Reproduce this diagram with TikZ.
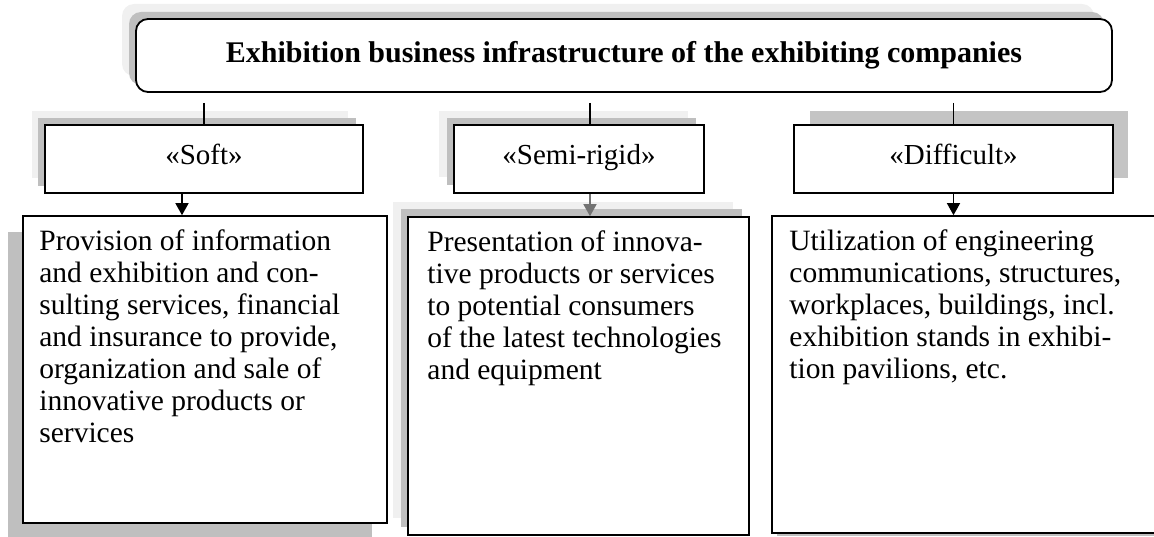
\documentclass[tikz,border=0pt]{standalone}
\usepackage{fontspec}
\setmainfont{Liberation Serif}
\usetikzlibrary{arrows.meta,positioning}

\tikzset{
    box/.style={draw, line width=1.6pt, fill=white, inner sep=0pt, font=\fontsize{29}{32}\selectfont},
    kindbox/.style={box, minimum height=68pt, text height=19pt, text depth=7pt},
    headbox/.style={box, line width=1.8pt, rounded corners=12pt, font=\bfseries\fontsize{30}{32}\selectfont},
    infotext/.style={align=left, inner sep=0pt, anchor=north west, font=\fontsize{29.5}{32}\selectfont},
    darkshade/.style={fill=black!25},
    paleshade/.style={fill=black!6},
    arr/.style={line width=1.4pt, -{Triangle[length=12pt,width=13pt]}},
}

\begin{document}
\begin{tikzpicture}[x=1pt, y=-1pt]

    % Fix the page size
    \useasboundingbox (0,0) rectangle (1154,537);

    % Shadows behind the title
    \fill[paleshade, rounded corners=12pt] (122,4) rectangle (1094,76);
    \fill[darkshade, rounded corners=12pt] (129,12) rectangle (1104,85);

    % Shadows behind the three kinds
    \fill[paleshade] (32,111) rectangle (348,178);
    \fill[darkshade] (38,118) rectangle (356,186);
    \fill[paleshade] (439,111) rectangle (688,177);
    \fill[darkshade] (447,118) rectangle (696,185);
    \fill[black!23] (810,111) rectangle (1128,178);

    % Shadows behind the descriptions
    \fill[darkshade] (8,232) rectangle (372,537);
    \fill[paleshade] (393,202) rectangle (733,518);
    \fill[darkshade] (401,209) rectangle (742,527);
    \fill[darkshade] (777,220) rectangle (1160,536);

    % Title
    \node[headbox, minimum width=976pt, minimum height=73pt] (infra) at (624,55.5)
        {Exhibition business infrastructure of the exhibiting companies};
    \coordinate (tickrow) at ([yshift=-10pt]infra.south);

    % The three kinds
    \node[kindbox, minimum width=318pt] (soft) at (204,159) {«Soft»};
    \node[kindbox, minimum width=250pt] (semi) at (579,159) {«Semi-rigid»};
    \node[kindbox, minimum width=319pt] (hard) at (953.5,159) {«Difficult»};

    % The descriptions
    \node[box, minimum width=364pt, minimum height=307pt] (softinfo) at (205,369.5) {};
    \node[box, minimum width=341pt, minimum height=318pt] (semiinfo) at (578.5,376) {};
    \node[box, minimum width=386pt, minimum height=317pt] (hardinfo) at (965,374.5) {};

    \node[infotext] (softtext) at ([xshift=17pt, yshift=-14pt]softinfo.north west)
        {Provision of information\\and exhibition and con-\\sulting services, financial\\and insurance to provide,\\organization and sale of\\innovative products or\\services};
    \node[infotext] (semitext) at ([xshift=20pt, yshift=-14pt]semiinfo.north west)
        {Presentation of innova-\\tive products or services\\to potential consumers\\of the latest technologies\\and equipment};
    \node[infotext] (hardtext) at ([xshift=18pt, yshift=-14pt]hardinfo.north west)
        {Utilization of engineering\\communications, structures,\\workplaces, buildings, incl.\\exhibition stands in exhibi-\\tion pavilions, etc.};

    % Short lines under the title
    \draw[line width=1.2pt] (tickrow -| soft.north) -- (soft.north);
    \draw[line width=1.2pt] ([xshift=11pt]semi.north |- tickrow) -- ([xshift=11pt]semi.north);
    \draw[line width=1.2pt] (tickrow -| hard.north) -- (hard.north);

    % Arrows down to the descriptions
    \draw[arr] ([xshift=-22pt]soft.south) -- ([xshift=-22pt]soft.south |- softinfo.north);
    \draw[arr, black!55] ([xshift=11pt]semi.south) -- ([xshift=11pt]semi.south |- semiinfo.north);
    \draw[arr] (hard.south) -- (hard.south |- hardinfo.north);

\end{tikzpicture}
\end{document}
